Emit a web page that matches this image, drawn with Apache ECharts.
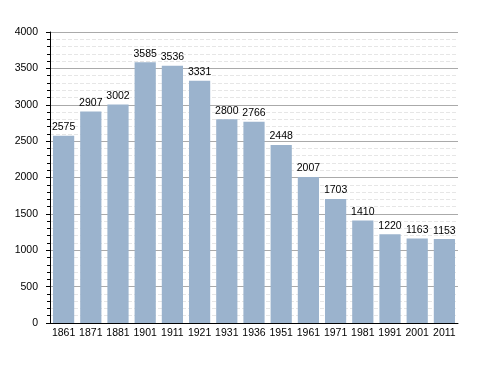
<!DOCTYPE html>
<html><head><meta charset="utf-8">
<script src="https://cdn.jsdelivr.net/npm/echarts@6/dist/echarts.min.js"></script>
<style>html,body{margin:0;padding:0;background:#fff}#c{width:488px;height:373px}</style>
</head><body><div id="c"></div>
<script>
const categories = ["1861","1871","1881","1901","1911","1921","1931","1936","1951","1961","1971","1981","1991","2001","2011"];
const population = [2575,2907,3002,3585,3536,3331,2800,2766,2448,2007,1703,1410,1220,1163,1153];
const chart = echarts.init(document.getElementById('c'), null, {renderer:'canvas'});
const font = 'Liberation Sans, Arial, sans-serif';
chart.setOption({
  animation:false,
  grid:{left:50,right:30,top:32,bottom:50,containLabel:false},
  xAxis:{type:'category',data:categories,
    axisLine:{lineStyle:{color:'#000',width:1}},
    axisTick:{show:false},
    axisLabel:{color:'#000',fontFamily:font,fontSize:10.5,margin:5,interval:0},
    splitLine:{show:false}},
  yAxis:{type:'value',min:0,max:4000,interval:500,
    axisLine:{show:true,lineStyle:{color:'#000',width:1}},
    axisTick:{show:true,length:4,lineStyle:{color:'#000'}},
    minorTick:{show:true,splitNumber:5,length:3,lineStyle:{color:'#000'}},
    axisLabel:{color:'#000',fontFamily:font,fontSize:10.5,margin:12,formatter:v=>String(v)},
    splitLine:{show:true,lineStyle:{color:'#aaaaaa',width:1}},
    minorSplitLine:{show:true,lineStyle:{color:'#e6e6e6',width:1,type:'dashed'}}},
  series:[{type:'bar',data:population,barCategoryGap:'22%',
    itemStyle:{color:'#9bb3cd'},
    label:{show:true,position:'top',color:'#000',fontFamily:font,fontSize:10.5,distance:3}}]
});
</script></body></html>
